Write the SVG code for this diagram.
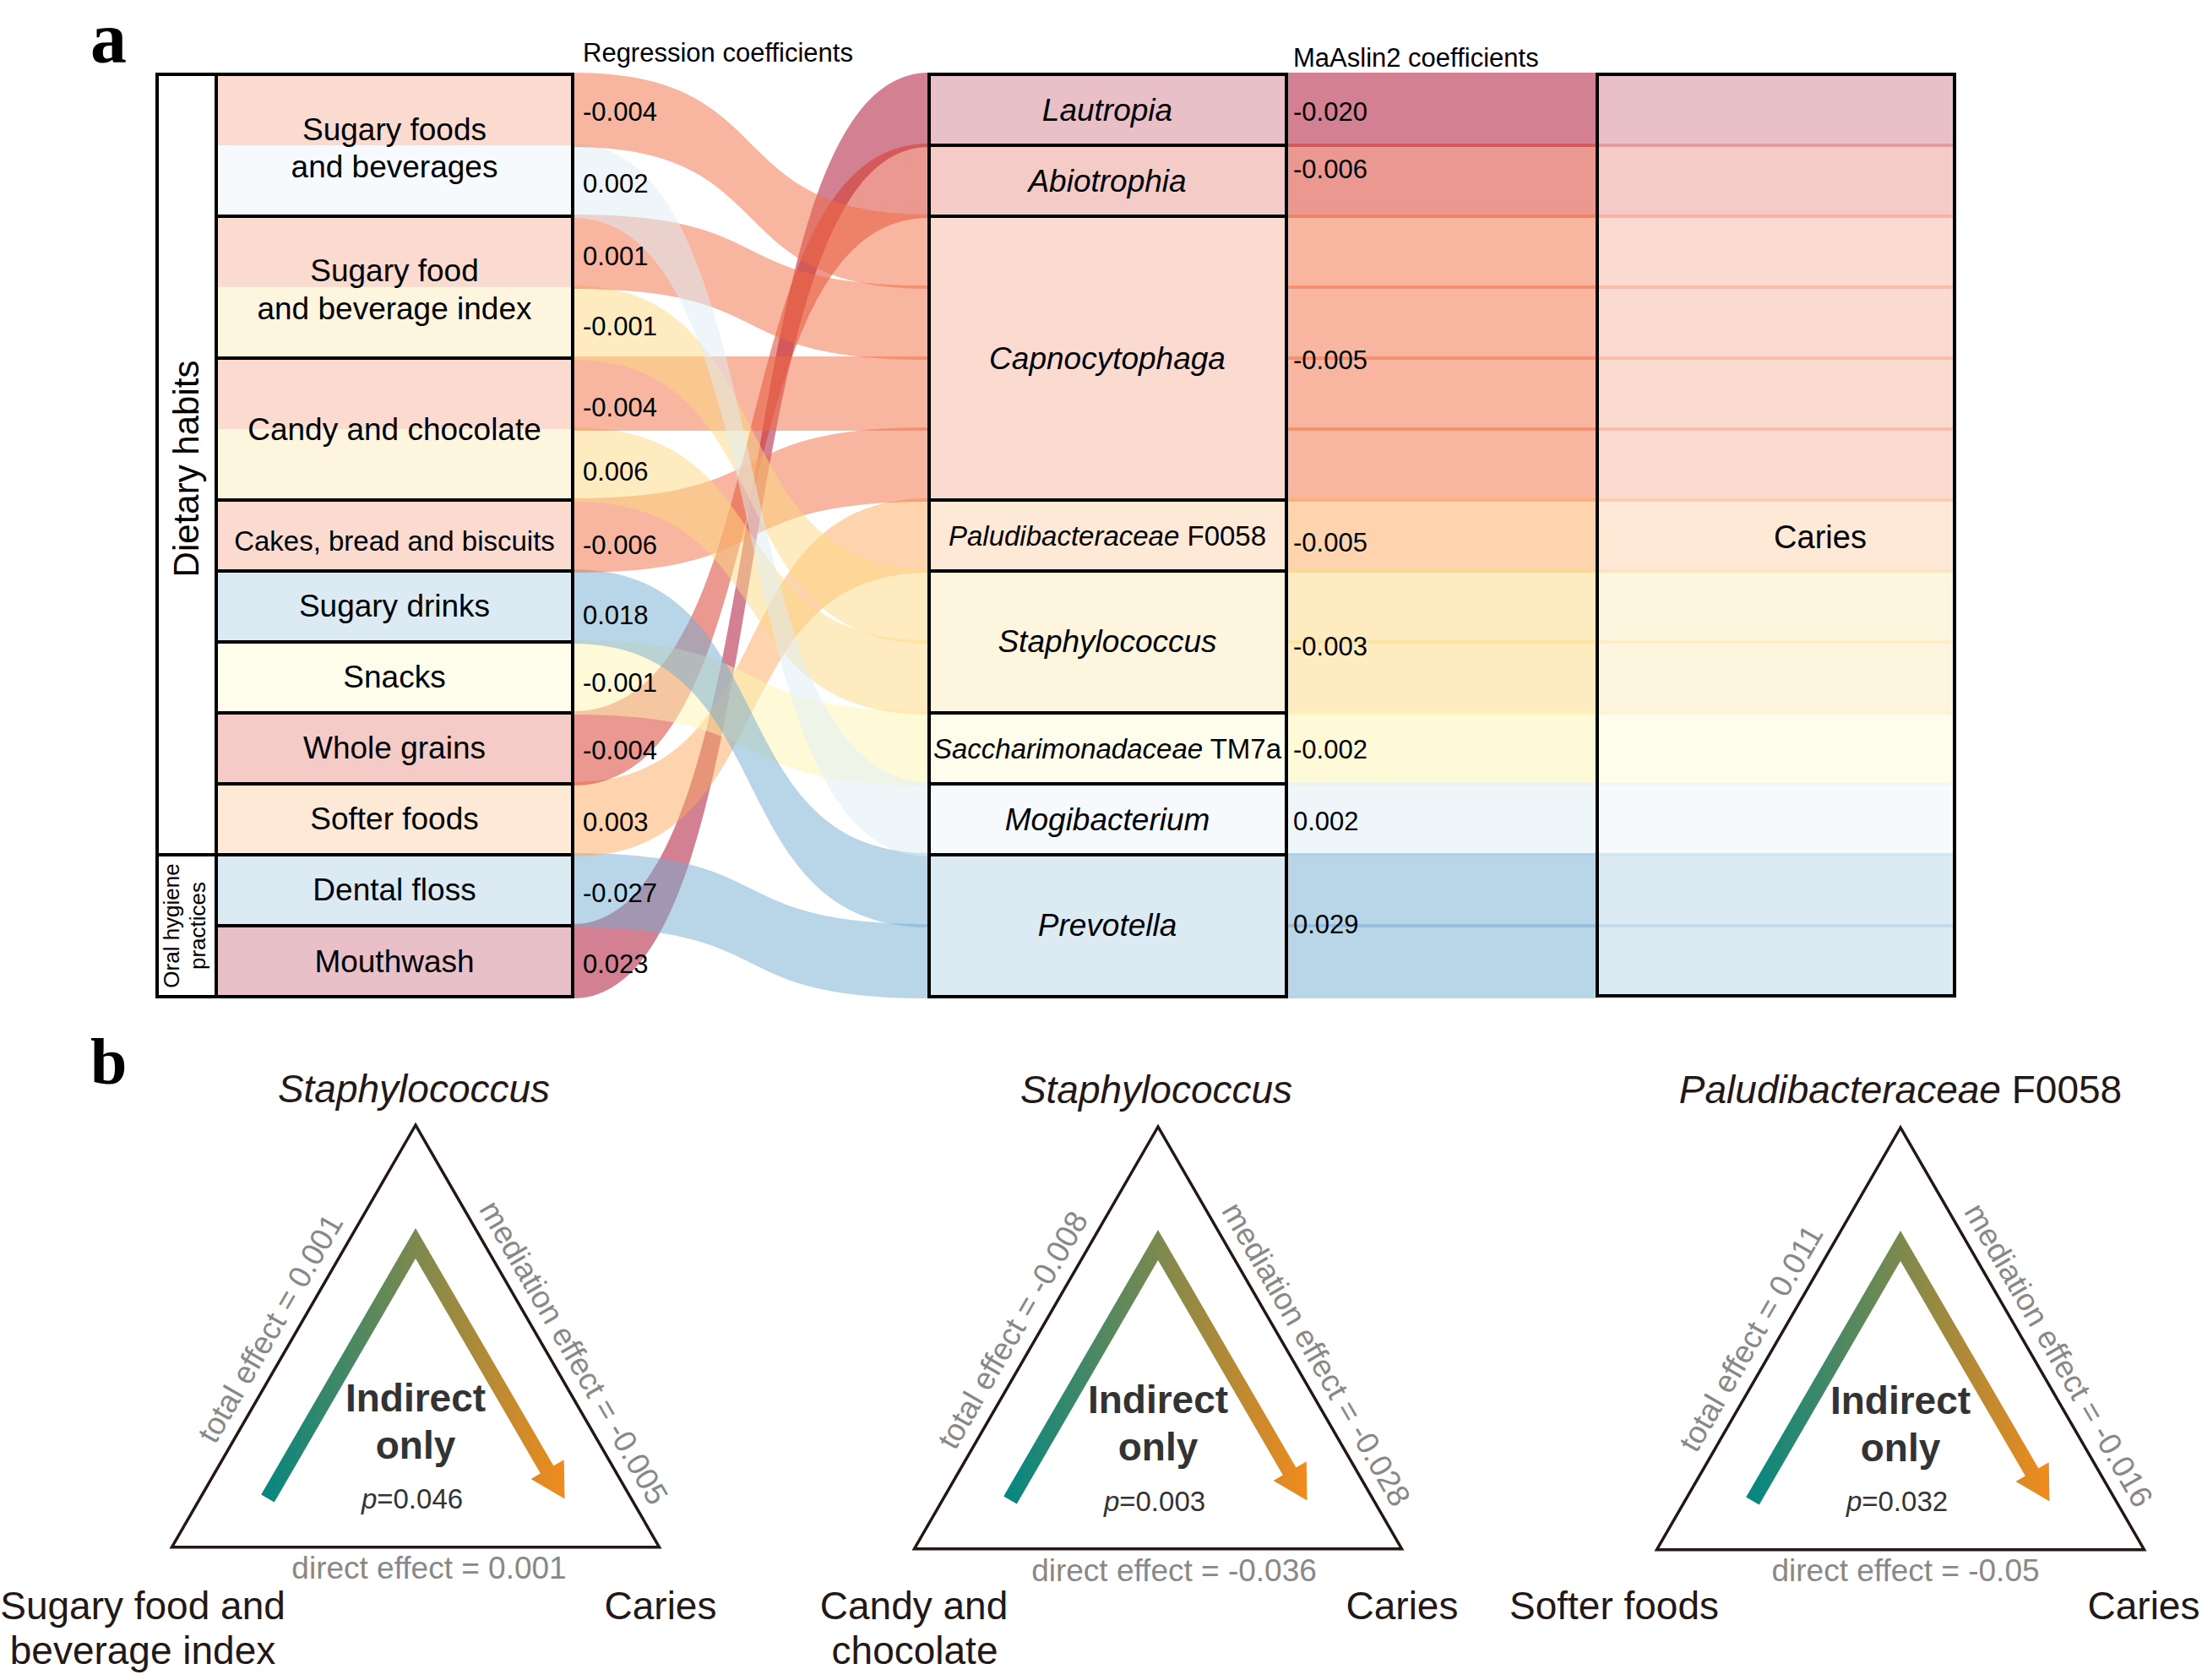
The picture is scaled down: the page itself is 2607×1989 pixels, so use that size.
<svg xmlns="http://www.w3.org/2000/svg" width="2607" height="1989" viewBox="0 0 2607 1989">
<defs>
<style>
text{font-family:"Liberation Sans",Arial,sans-serif;fill:#000}
.lbl{font-size:37px;text-anchor:middle}
.sm{font-size:33px}
.it{font-style:italic}
.num{font-size:31px}
.hdr{font-size:31px}
.nd{fill:none;stroke:#000;stroke-width:4}
.f{fill-opacity:.5}
.q{fill-opacity:.25}
.laut{fill:#a70125}.abio{fill:#d53121}.capn{fill:#f16b41}.palu{fill:#fba95d}
.stap{fill:#fdd981}.sacc{fill:#fdf5b1}.mogi{fill:#ddedf5}.prev{fill:#73abd1}
.panel{font-family:"Liberation Serif","Times New Roman",serif;font-weight:bold}
.tri{fill:none;stroke:#231815;stroke-width:3.5;stroke-linejoin:miter}
.arr{fill:none;stroke:url(#grad);stroke-width:18;stroke-linejoin:miter;stroke-linecap:butt}
.side{font-size:37px;fill:#888;text-anchor:middle}
.ttl{font-size:46px;fill:#231815;text-anchor:middle}
.bl{font-size:46px;fill:#231815;text-anchor:middle}
.ind{font-size:46px;font-weight:bold;fill:#333;text-anchor:middle}
.pv{font-size:33px;fill:#333;text-anchor:middle}
</style>
<linearGradient id="grad" gradientUnits="userSpaceOnUse" x1="-176" y1="0" x2="177" y2="0">
<stop offset="0" stop-color="#078780"/>
<stop offset="1" stop-color="#f28b1b"/>
</linearGradient>
</defs>
<rect x="0" y="0" width="2607" height="1989" fill="#fff"/>

<text class="panel" x="107" y="74" font-size="86">a</text>
<text class="panel" x="107" y="1283" font-size="78">b</text>

<text class="hdr" x="690" y="73">Regression coefficients</text>
<text class="hdr" x="1531" y="79">MaAslin2 coefficients</text>

<g id="connectors">
<path class="f laut" d="M678,1094 C931,1094 847,86 1100,86 L1100,174 C847,174 931,1182 678,1182Z"/>
<path class="f prev" d="M678,1010 C931,1010 847,1094 1100,1094 L1100,1182 C847,1182 931,1098 678,1098Z"/>
<path class="f palu" d="M678,926 C931,926 847,590 1100,590 L1100,678 C847,678 931,1014 678,1014Z"/>
<path class="f abio" d="M678,842 C931,842 847,170 1100,170 L1100,258 C847,258 931,930 678,930Z"/>
<path class="f sacc" d="M678,758 C931,758 847,842 1100,842 L1100,930 C847,930 931,846 678,846Z"/>
<path class="f prev" d="M678,674 C931,674 847,1010 1100,1010 L1100,1098 C847,1098 931,762 678,762Z"/>
<path class="f capn" d="M678,590 C931,590 847,506 1100,506 L1100,594 C847,594 931,678 678,678Z"/>
<path class="f stap" d="M678,506 C931,506 847,758 1100,758 L1100,846 C847,846 931,594 678,594Z"/>
<path class="f capn" d="M678,422 L1100,422 L1100,510 L678,510Z"/>
<path class="f stap" d="M678,338 C931,338 847,674 1100,674 L1100,762 C847,762 931,426 678,426Z"/>
<path class="f capn" d="M678,254 C931,254 847,338 1100,338 L1100,426 C847,426 931,342 678,342Z"/>
<path class="f mogi" d="M678,170 C931,170 847,926 1100,926 L1100,1014 C847,1014 931,258 678,258Z"/>
<path class="f capn" d="M678,86 C931,86 847,254 1100,254 L1100,342 C847,342 931,174 678,174Z"/>
<rect class="f laut" x="1523" y="86" width="368" height="88"/>
<rect class="f abio" x="1523" y="170" width="368" height="88"/>
<rect class="f capn" x="1523" y="254" width="368" height="88"/>
<rect class="f capn" x="1523" y="338" width="368" height="88"/>
<rect class="f capn" x="1523" y="422" width="368" height="88"/>
<rect class="f capn" x="1523" y="506" width="368" height="88"/>
<rect class="f palu" x="1523" y="590" width="368" height="88"/>
<rect class="f stap" x="1523" y="674" width="368" height="88"/>
<rect class="f stap" x="1523" y="758" width="368" height="88"/>
<rect class="f sacc" x="1523" y="842" width="368" height="88"/>
<rect class="f mogi" x="1523" y="926" width="368" height="88"/>
<rect class="f prev" x="1523" y="1010" width="368" height="88"/>
<rect class="f prev" x="1523" y="1094" width="368" height="88"/>
</g>

<g id="group-dietary-habits">
<rect class="nd" x="186" y="88" width="70" height="924"/>
<text font-size="42" text-anchor="middle" transform="translate(235,555) rotate(-90)">Dietary habits</text>
</g>
<g id="group-oral-hygiene">
<rect class="nd" x="186" y="1012" width="70" height="168"/>
<text font-size="26" text-anchor="middle" transform="translate(212,1096) rotate(-90)">Oral hygiene</text>
<text font-size="26" text-anchor="middle" transform="translate(243,1096) rotate(-90)">practices</text>
</g>

<g id="node-sugary-foods">
<rect class="q capn" x="256" y="88" width="422" height="84"/>
<rect class="q mogi" x="256" y="172" width="422" height="84"/>
<rect class="nd" x="256" y="88" width="422" height="168"/>
<text class="lbl" x="467" y="166">Sugary foods</text>
<text class="lbl" x="467" y="210">and beverages</text>
</g>
<g id="node-sugary-food-index">
<rect class="q capn" x="256" y="256" width="422" height="84"/>
<rect class="q stap" x="256" y="340" width="422" height="84"/>
<rect class="nd" x="256" y="256" width="422" height="168"/>
<text class="lbl" x="467" y="333">Sugary food</text>
<text class="lbl" x="467" y="378">and beverage index</text>
</g>
<g id="node-candy">
<rect class="q capn" x="256" y="424" width="422" height="84"/>
<rect class="q stap" x="256" y="508" width="422" height="84"/>
<rect class="nd" x="256" y="424" width="422" height="168"/>
<text class="lbl" x="467" y="521">Candy and chocolate</text>
</g>
<g id="node-cakes">
<rect class="q capn" x="256" y="592" width="422" height="84"/>
<rect class="nd" x="256" y="592" width="422" height="84"/>
<text class="lbl sm" x="467" y="652">Cakes, bread and biscuits</text>
</g>
<g id="node-sugary-drinks">
<rect class="q prev" x="256" y="676" width="422" height="84"/>
<rect class="nd" x="256" y="676" width="422" height="84"/>
<text class="lbl" x="467" y="730">Sugary drinks</text>
</g>
<g id="node-snacks">
<rect class="q sacc" x="256" y="760" width="422" height="84"/>
<rect class="nd" x="256" y="760" width="422" height="84"/>
<text class="lbl" x="467" y="814">Snacks</text>
</g>
<g id="node-whole-grains">
<rect class="q abio" x="256" y="844" width="422" height="84"/>
<rect class="nd" x="256" y="844" width="422" height="84"/>
<text class="lbl" x="467" y="898">Whole grains</text>
</g>
<g id="node-softer-foods">
<rect class="q palu" x="256" y="928" width="422" height="84"/>
<rect class="nd" x="256" y="928" width="422" height="84"/>
<text class="lbl" x="467" y="982">Softer foods</text>
</g>
<g id="node-dental-floss">
<rect class="q prev" x="256" y="1012" width="422" height="84"/>
<rect class="nd" x="256" y="1012" width="422" height="84"/>
<text class="lbl" x="467" y="1066">Dental floss</text>
</g>
<g id="node-mouthwash">
<rect class="q laut" x="256" y="1096" width="422" height="84"/>
<rect class="nd" x="256" y="1096" width="422" height="84"/>
<text class="lbl" x="467" y="1151">Mouthwash</text>
</g>

<g id="node-lautropia">
<rect class="q laut" x="1100" y="88" width="423" height="84"/>
<rect class="nd" x="1100" y="88" width="423" height="84"/>
<text class="lbl it" x="1311" y="143">Lautropia</text>
</g>
<g id="node-abiotrophia">
<rect class="q abio" x="1100" y="172" width="423" height="84"/>
<rect class="nd" x="1100" y="172" width="423" height="84"/>
<text class="lbl it" x="1311" y="227">Abiotrophia</text>
</g>
<g id="node-capnocytophaga">
<rect class="q capn" x="1100" y="256" width="423" height="336"/>
<rect class="nd" x="1100" y="256" width="423" height="336"/>
<text class="lbl it" x="1311" y="437">Capnocytophaga</text>
</g>
<g id="node-paludibacteraceae">
<rect class="q palu" x="1100" y="592" width="423" height="84"/>
<rect class="nd" x="1100" y="592" width="423" height="84"/>
<text class="lbl sm" x="1311" y="646"><tspan font-style="italic">Paludibacteraceae</tspan> F0058</text>
</g>
<g id="node-staphylococcus">
<rect class="q stap" x="1100" y="676" width="423" height="168"/>
<rect class="nd" x="1100" y="676" width="423" height="168"/>
<text class="lbl it" x="1311" y="772">Staphylococcus</text>
</g>
<g id="node-saccharimonadaceae">
<rect class="q sacc" x="1100" y="844" width="423" height="84"/>
<rect class="nd" x="1100" y="844" width="423" height="84"/>
<text class="lbl sm" x="1311" y="898"><tspan font-style="italic">Saccharimonadaceae</tspan> TM7a</text>
</g>
<g id="node-mogibacterium">
<rect class="q mogi" x="1100" y="928" width="423" height="84"/>
<rect class="nd" x="1100" y="928" width="423" height="84"/>
<text class="lbl it" x="1311" y="983">Mogibacterium</text>
</g>
<g id="node-prevotella">
<rect class="q prev" x="1100" y="1012" width="423" height="168"/>
<rect class="nd" x="1100" y="1012" width="423" height="168"/>
<text class="lbl it" x="1311" y="1108">Prevotella</text>
</g>

<g id="node-caries">
<rect class="q laut" x="1891" y="86" width="423" height="88"/>
<rect class="q abio" x="1891" y="170" width="423" height="88"/>
<rect class="q capn" x="1891" y="254" width="423" height="88"/>
<rect class="q capn" x="1891" y="338" width="423" height="88"/>
<rect class="q capn" x="1891" y="422" width="423" height="88"/>
<rect class="q capn" x="1891" y="506" width="423" height="88"/>
<rect class="q palu" x="1891" y="590" width="423" height="88"/>
<rect class="q stap" x="1891" y="674" width="423" height="88"/>
<rect class="q stap" x="1891" y="758" width="423" height="88"/>
<rect class="q sacc" x="1891" y="842" width="423" height="88"/>
<rect class="q mogi" x="1891" y="926" width="423" height="88"/>
<rect class="q prev" x="1891" y="1010" width="423" height="88"/>
<rect class="q prev" x="1891" y="1094" width="423" height="86"/>
<rect class="nd" x="1891" y="88" width="423" height="1091"/>
<text x="2155" y="649" font-size="38" text-anchor="middle">Caries</text>
</g>

<g id="coefficients">
<text class="num" x="690" y="143">-0.004</text>
<text class="num" x="690" y="228">0.002</text>
<text class="num" x="690" y="314">0.001</text>
<text class="num" x="690" y="397">-0.001</text>
<text class="num" x="690" y="493">-0.004</text>
<text class="num" x="690" y="569">0.006</text>
<text class="num" x="690" y="656">-0.006</text>
<text class="num" x="690" y="739">0.018</text>
<text class="num" x="690" y="819">-0.001</text>
<text class="num" x="690" y="899">-0.004</text>
<text class="num" x="690" y="984">0.003</text>
<text class="num" x="690" y="1068">-0.027</text>
<text class="num" x="690" y="1152">0.023</text>
<text class="num" x="1531" y="143">-0.020</text>
<text class="num" x="1531" y="211">-0.006</text>
<text class="num" x="1531" y="437">-0.005</text>
<text class="num" x="1531" y="653">-0.005</text>
<text class="num" x="1531" y="776">-0.003</text>
<text class="num" x="1531" y="898">-0.002</text>
<text class="num" x="1531" y="983">0.002</text>
<text class="num" x="1531" y="1105">0.029</text>
</g>

<g id="triangle-1" transform="translate(492,1332)">
<polygon class="tri" points="0,0 -288.5,499.7 288.5,499.7"/>
<polyline class="arr" points="-175,442 0,140 158,412"/>
<polygon fill="url(#grad)" points="176.5,442.5 136.5,419 175.7,396.3"/>
<text class="ttl" x="-2" y="-27" font-style="italic">Staphylococcus</text>
<text class="side" transform="translate(-161,247) rotate(-60)">total effect = 0.001</text>
<text class="side" transform="translate(176.5,275.7) rotate(60)">mediation effect = -0.005</text>
<text class="side" x="16" y="537">direct effect = 0.001</text>
<text class="ind" x="0" y="338.5">Indirect</text>
<text class="ind" x="0" y="394.5">only</text>
<text class="pv" x="-4" y="453.5"><tspan font-style="italic">p</tspan>=0.046</text>
<text class="bl" x="-323" y="585">Sugary food and</text>
<text class="bl" x="-323" y="638">beverage index</text>
<text class="bl" x="290" y="585">Caries</text>
</g>

<g id="triangle-2" transform="translate(1371,1334)">
<polygon class="tri" points="0,0 -288.5,499.7 288.5,499.7"/>
<polyline class="arr" points="-175,442 0,140 158,412"/>
<polygon fill="url(#grad)" points="176.5,442.5 136.5,419 175.7,396.3"/>
<text class="ttl" x="-2" y="-28" font-style="italic">Staphylococcus</text>
<text class="side" transform="translate(-161,247) rotate(-60)">total effect = -0.008</text>
<text class="side" transform="translate(176.5,275.7) rotate(60)">mediation effect = -0.028</text>
<text class="side" x="19" y="538">direct effect = -0.036</text>
<text class="ind" x="0" y="338.5">Indirect</text>
<text class="ind" x="0" y="394.5">only</text>
<text class="pv" x="-4" y="454.5"><tspan font-style="italic">p</tspan>=0.003</text>
<text class="bl" x="-289" y="583">Candy and</text>
<text class="bl" x="-288" y="636">chocolate</text>
<text class="bl" x="289" y="583">Caries</text>
</g>

<g id="triangle-3" transform="translate(2250,1335)">
<polygon class="tri" points="0,0 -288.5,499.7 288.5,499.7"/>
<polyline class="arr" points="-175,442 0,140 158,412"/>
<polygon fill="url(#grad)" points="176.5,442.5 136.5,419 175.7,396.3"/>
<text class="ttl" x="0" y="-29"><tspan font-style="italic">Paludibacteraceae</tspan> F0058</text>
<text class="side" transform="translate(-166,255.7) rotate(-60)">total effect = 0.011</text>
<text class="side" transform="translate(176.5,275.7) rotate(60)">mediation effect = -0.016</text>
<text class="side" x="6" y="537">direct effect = -0.05</text>
<text class="ind" x="0" y="338.5">Indirect</text>
<text class="ind" x="0" y="394.5">only</text>
<text class="pv" x="-4" y="454">
<tspan font-style="italic">p</tspan>=0.032</text>
<text class="bl" x="-339" y="582">Softer foods</text>
<text class="bl" x="288" y="582">Caries</text>
</g>
</svg>
